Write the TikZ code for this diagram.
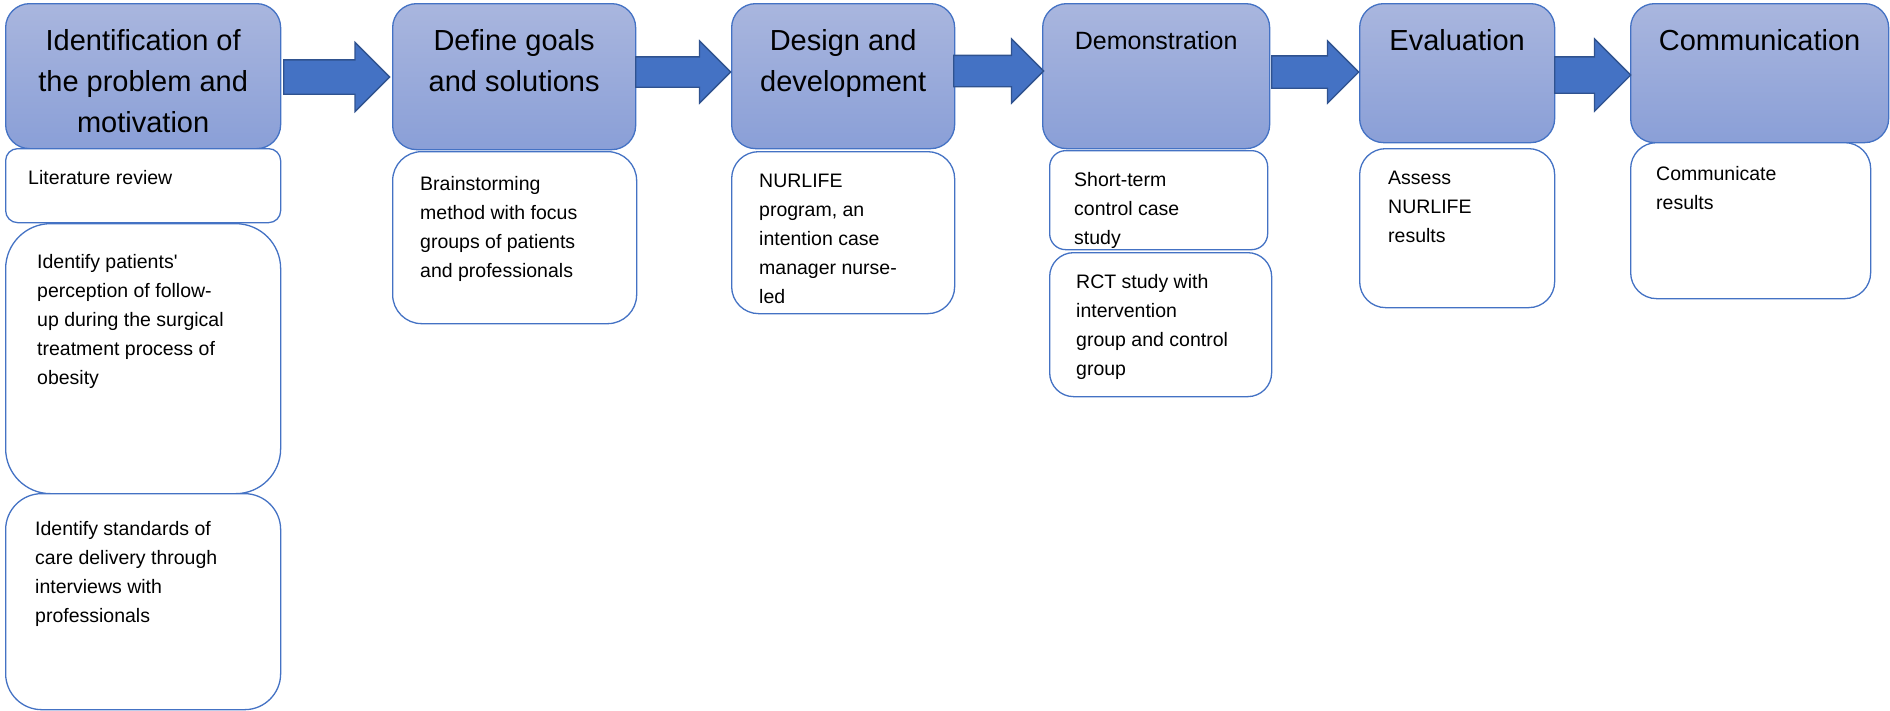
\documentclass[tikz,border=0pt]{standalone}
\usepackage{fontspec}
\setmainfont{Liberation Sans}[Ligatures=TeXOff]
\usetikzlibrary{shapes.arrows}
\definecolor{stepline}{HTML}{4472C4}
\definecolor{steptop}{HTML}{A9B6DE}
\definecolor{stepbot}{HTML}{8A9FD7}
\definecolor{flowline}{HTML}{2F528F}
\tikzset{
  phase/.style={draw=stepline, line width=1.3pt, top color=steptop, bottom color=stepbot, rounded corners=24pt, anchor=north west, inner sep=0pt},
  task/.style={draw=stepline, line width=1.3pt, fill=white, anchor=north west, inner sep=0pt},
  phasetext/.style={font=\fontsize{29}{41}\selectfont, align=center, inner sep=0pt, anchor=north},
  tasktext/.style={font=\fontsize{19.5}{29}\selectfont, align=left, inner sep=0pt, anchor=north west},
  flow/.style={single arrow, draw=flowline, fill=stepline, line width=1.3pt, inner xsep=0pt, single arrow head indent=0pt, single arrow tip angle=90, anchor=tail}
}
\begin{document}
\begin{tikzpicture}[x=1pt,y=-1pt]
          \useasboundingbox (0,0) rectangle (1890,710);
          \node[phase, minimum width=275pt, minimum height=145pt] (p1) at (5,3) {};
          \node[phase, minimum width=243pt, minimum height=146pt] (p2) at (392,3) {};
          \node[phase, minimum width=223pt, minimum height=145pt] (p3) at (731,3) {};
          \node[phase, minimum width=227pt, minimum height=145pt] (p4) at (1042,3) {};
          \node[phase, minimum width=195pt, minimum height=139pt] (p5) at (1359,3) {};
          \node[phase, minimum width=258pt, minimum height=139pt] (p6) at (1630,3) {};
          \node[phasetext] (p1t) at ([yshift=-26pt]p1.north) {Identification of\\the problem and\\motivation};
          \node[phasetext] (p2t) at ([yshift=-26pt]p2.north) {Define goals\\and solutions};
          \node[phasetext] (p3t) at ([yshift=-26pt]p3.north) {Design and\\development};
          \node[phasetext, font=\fontsize{25}{35}\selectfont] (p4t) at ([yshift=-28pt]p4.north) {Demonstration};
          \node[phasetext] (p5t) at ([yshift=-26pt]p5.north) {Evaluation};
          \node[phasetext] (p6t) at ([yshift=-26pt]p6.north) {Communication};
          \node[task, rounded corners=12pt, minimum width=275pt, minimum height=74pt] (t1a) at (5,148) {};
          \node[task, rounded corners=45pt, minimum width=275pt, minimum height=270pt] (t1b) at (5,223) {};
          \node[task, rounded corners=36pt, minimum width=275pt, minimum height=216pt] (t1c) at (5,493) {};
          \node[task, rounded corners=29pt, minimum width=244pt, minimum height=172pt] (t2) at (392,151) {};
          \node[task, rounded corners=27pt, minimum width=223pt, minimum height=162pt] (t3) at (731,151) {};
          \node[task, rounded corners=16pt, minimum width=218pt, minimum height=99pt] (t4a) at (1049,150) {};
          \node[task, rounded corners=24pt, minimum width=222pt, minimum height=144pt] (t4b) at (1049,252) {};
          \node[task, rounded corners=26pt, minimum width=195pt, minimum height=159pt] (t5) at (1359,148) {};
          \node[task, rounded corners=26pt, minimum width=240pt, minimum height=156pt] (t6) at (1630,142) {};
          \node[tasktext] (t1at) at ([xshift=23pt,yshift=-22pt]t1a.north west) {Literature review};
          \node[tasktext] (t1bt) at ([xshift=32pt,yshift=-31pt]t1b.north west) {Identify patients'\\perception of follow-\\up during the surgical\\treatment process of\\obesity};
          \node[tasktext] (t1ct) at ([xshift=30pt,yshift=-28pt]t1c.north west) {Identify standards of\\care delivery through\\interviews with\\professionals};
          \node[tasktext] (t2t) at ([xshift=28pt,yshift=-25pt]t2.north west) {Brainstorming\\method with focus\\groups of patients\\and professionals};
          \node[tasktext] (t3t) at ([xshift=28pt,yshift=-23pt]t3.north west) {NURLIFE\\program, an\\intention case\\manager nurse-\\led};
          \node[tasktext] (t4at) at ([xshift=25pt,yshift=-22pt]t4a.north west) {Short-term\\control case\\study};
          \node[tasktext] (t4bt) at ([xshift=27pt,yshift=-22pt]t4b.north west) {RCT study with\\intervention\\group and control\\group};
          \node[tasktext] (t5t) at ([xshift=29pt,yshift=-23pt]t5.north west) {Assess\\NURLIFE\\results};
          \node[tasktext] (t6t) at ([xshift=26pt,yshift=-24pt]t6.north west) {Communicate\\results};
          \node[flow, minimum height=106pt, inner ysep=16.5pt, single arrow head extend=17.5pt] (a1) at (283,77) {};
          \node[flow, minimum height=95pt, inner ysep=14.5pt, single arrow head extend=16pt] (a2) at (635,72) {};
          \node[flow, minimum height=90pt, inner ysep=15pt, single arrow head extend=16.5pt] (a3) at (953,71) {};
          \node[flow, minimum height=87pt, inner ysep=15.5pt, single arrow head extend=15pt] (a4) at (1271,72) {};
          \node[flow, minimum height=76pt, inner ysep=17.5pt, single arrow head extend=18pt] (a5) at (1554,75) {};
        \end{tikzpicture}
\end{document}
